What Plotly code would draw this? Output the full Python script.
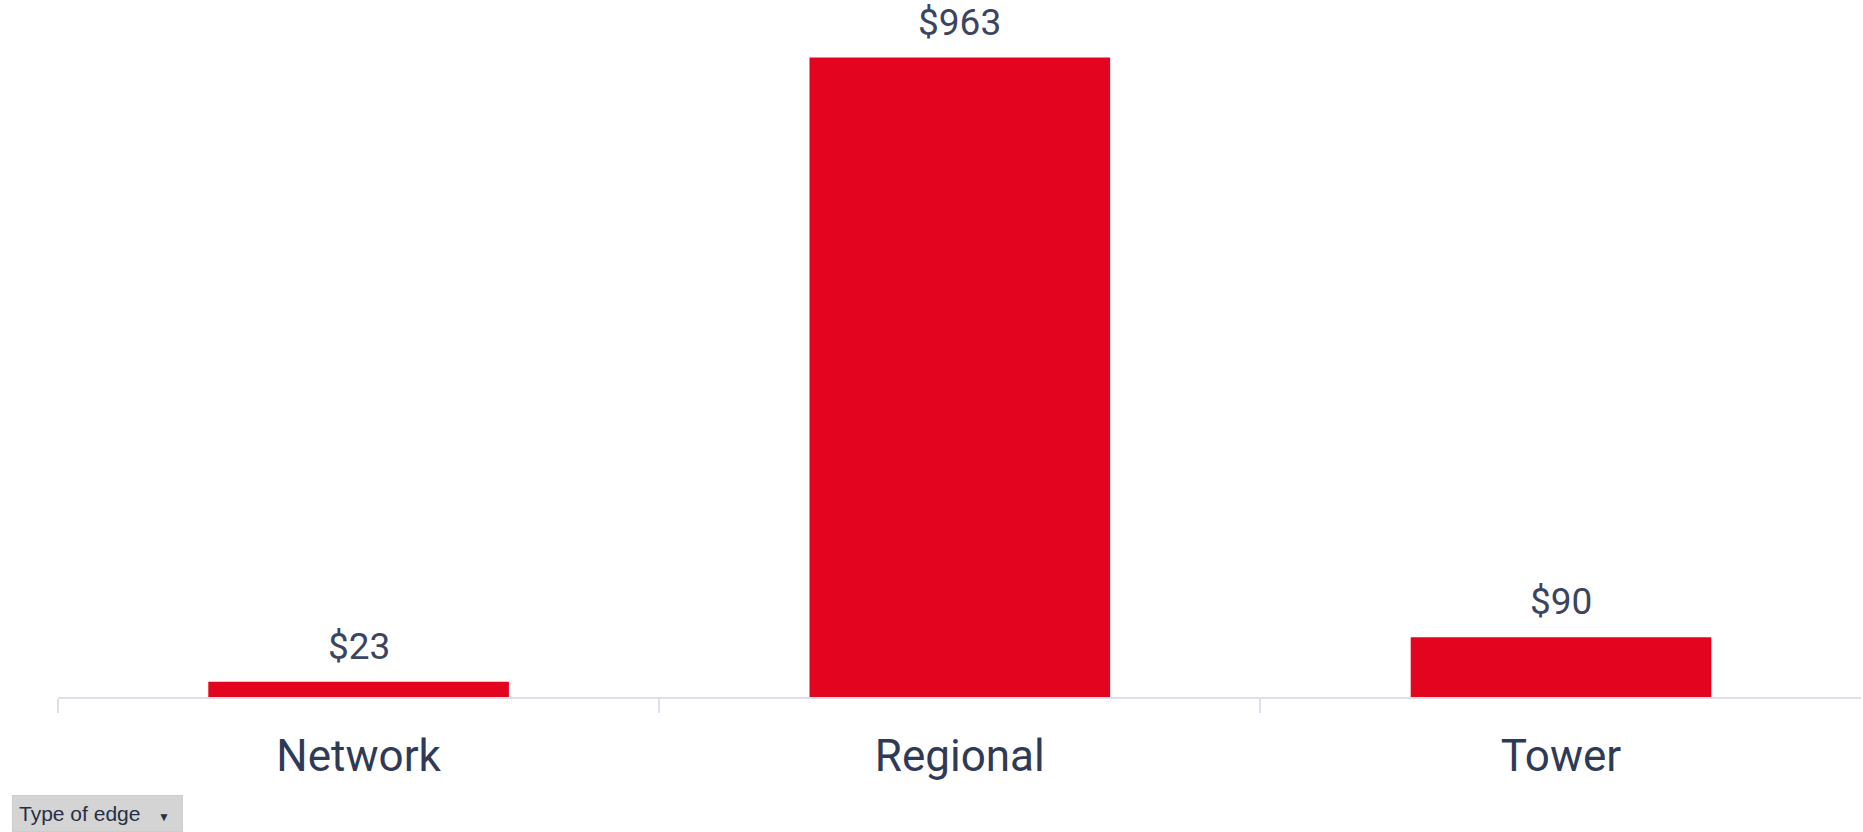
import plotly.graph_objects as go

categories = ["Network", "Regional", "Tower"]
values = [23, 963, 90]
labels = ["$23", "$963", "$90"]

W, H = 1863, 832
ML, MR, MT, MB = 58, 2, 33, 135
plot_w = W - ML - MR
plot_h = H - MT - MB

def px_to_paper_x(px):
    return (px - ML) / plot_w

def px_to_paper_y(py):
    return (H - MB - py) / plot_h

fig = go.Figure(go.Bar(
    x=categories,
    y=values,
    marker=dict(color="#E3051F", line=dict(width=0)),
    cliponaxis=False,
    hoverinfo="skip",
))

for c, v, t in zip(categories, values, labels):
    fig.add_annotation(
        x=c, y=v, text=t, showarrow=False,
        xanchor="center", yanchor="bottom", yshift=12,
        font=dict(family="Roboto", size=37, color="#3b4461"),
    )

fig.update_layout(
    width=W, height=H,
    margin=dict(l=ML, r=MR, t=MT, b=MB, autoexpand=False),
    paper_bgcolor="white",
    plot_bgcolor="white",
    bargap=0.5,
    showlegend=False,
    xaxis=dict(
        range=[-0.5, 2.499],
        showline=True, linecolor="#dce0ed", linewidth=2,
        ticks="outside", tickson="boundaries", ticklen=14, tickcolor="#dce0ed", tickwidth=2,
        ticklabelstandoff=19,
        tickfont=dict(family="Roboto", size=44, color="#2f3a57"),
        showgrid=False, zeroline=False, automargin=False,
    ),
    yaxis=dict(
        range=[0, 1000], visible=False, showgrid=False, zeroline=False,
    ),
)

fig.add_annotation(
    text="Type of edge&nbsp;&nbsp;&nbsp;<span style='font-size:12px'>▼</span>&nbsp;",
    xref="paper", yref="paper",
    x=px_to_paper_x(12), y=px_to_paper_y(795),
    xanchor="left", yanchor="top",
    showarrow=False,
    align="left",
    font=dict(family="Liberation Sans", size=21, color="#263044"),
    bgcolor="#d4d4d4",
    bordercolor="#cdcdcd", borderwidth=1, borderpad=6,
)

fig.write_html("out.html", config={"displayModeBar": False},
               post_script="document.body.style.margin='0';")
